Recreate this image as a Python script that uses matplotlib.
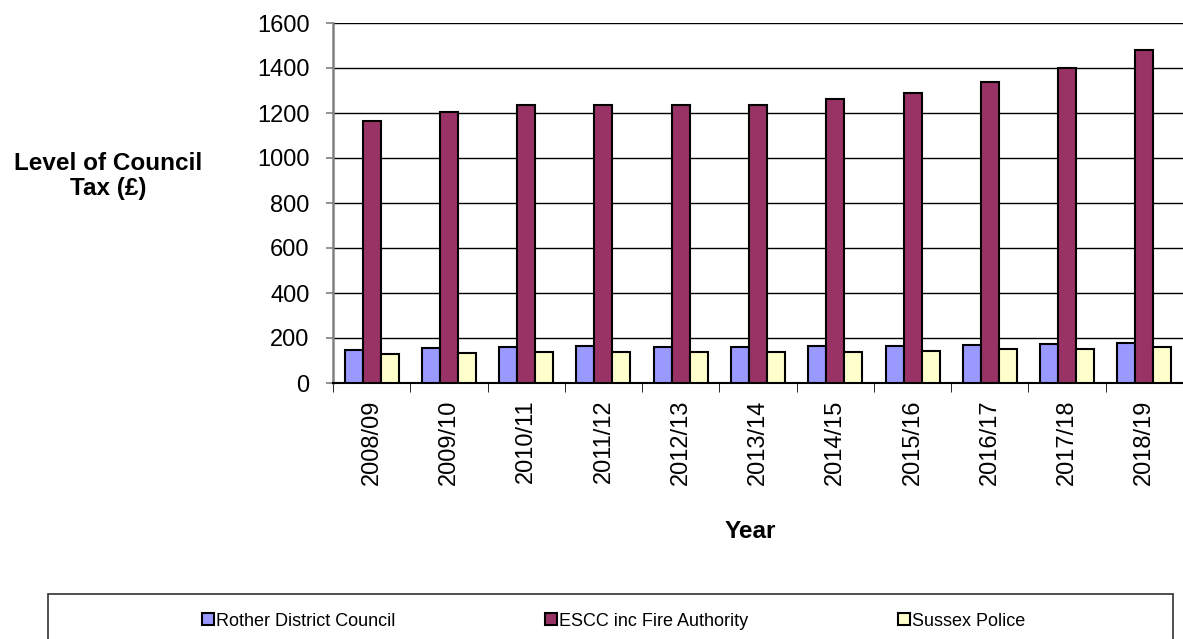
import numpy as np
import matplotlib.pyplot as plt
from matplotlib.patches import Rectangle

plt.rcParams['font.family'] = ['Liberation Sans', 'DejaVu Sans']

years = ['2008/09', '2009/10', '2010/11', '2011/12', '2012/13', '2013/14',
         '2014/15', '2015/16', '2016/17', '2017/18', '2018/19']
rother = [148, 157, 160, 163, 161, 161, 163, 164, 167, 172, 176]
escc = [1163, 1204, 1237, 1237, 1237, 1237, 1261, 1287, 1336, 1400, 1479]
police = [128, 133, 136, 136, 136, 136, 140, 144, 149, 153, 162]

series = [('Rother District Council', rother, '#9999FF'),
          ('ESCC inc Fire Authority', escc, '#993366'),
          ('Sussex Police', police, '#FFFFCC')]

W, H = 1183, 639
fig = plt.figure(figsize=(W / 100, H / 100), dpi=100)
ax = fig.add_axes([333 / W, 1 - 383 / H, 850 / W, 360 / H])

x = np.arange(len(years))
w = 0.233
handles = []
for i, (name, vals, col) in enumerate(series):
    b = ax.bar(x + (i - 1) * w, vals, w, color=col, edgecolor='black',
               linewidth=1.5, label=name, zorder=3)
    handles.append(b)

ax.set_xlim(-0.5, len(years) - 0.5)
ax.set_ylim(0, 1600)
ax.set_yticks(range(0, 1601, 200))
ax.yaxis.grid(True, color='black', linewidth=1, zorder=0)
ax.set_xticks(x)
ax.set_xticklabels(years, rotation=90, fontsize=17)
ax.set_xticks(np.arange(-0.5, len(years), 1), minor=True)
ax.tick_params(axis='x', which='major', length=0, pad=12)
ax.tick_params(axis='x', which='minor', length=6.5, color='black')
ax.tick_params(axis='y', labelsize=17, length=5, width=1.2, color='#808080', pad=12)

for s in ['top', 'right']:
    ax.spines[s].set_visible(False)
ax.spines['left'].set_color('#808080')
ax.spines['left'].set_linewidth(1.8)
ax.spines['bottom'].set_linewidth(1.5)

fig.text(108 / W, 1 - 176 / H, 'Level of Council\nTax (£)', ha='center',
         va='center', fontsize=17.5, fontweight='bold', linespacing=1.15)
fig.text(750 / W, 1 - 532 / H, 'Year', ha='center', va='center',
         fontsize=17.5, fontweight='bold')

fig.patches.append(Rectangle((48 / W, -0.05), 1125 / W, 0.05 + 45 / H,
                             transform=fig.transFigure, facecolor='white',
                             edgecolor='#303030', linewidth=1.2))
fig.legend(handles=handles, loc='center left', bbox_to_anchor=(202 / W, 1 - 621 / H),
           ncol=3, frameon=False, fontsize=13, handlelength=0.65, handleheight=0.65,
           handletextpad=0.12, columnspacing=8.3, borderpad=0, borderaxespad=0)

fig.savefig('out.png', dpi=100)
